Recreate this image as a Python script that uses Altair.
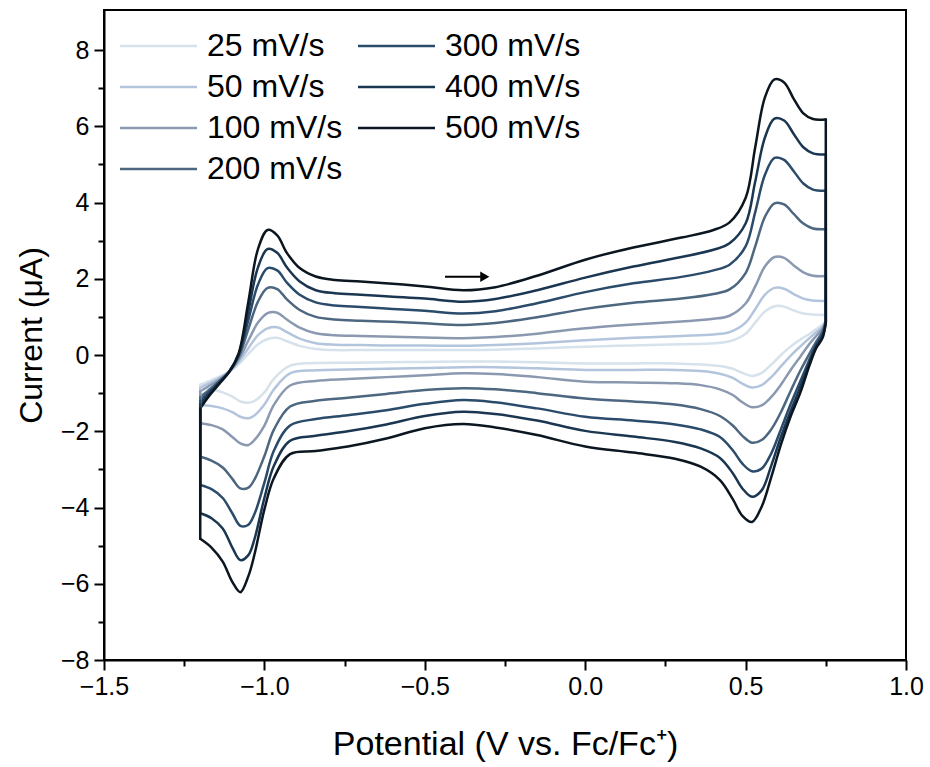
import altair as alt
import pandas as pd

# ---------------- data ----------------
RATES = ["25 mV/s", "50 mV/s", "100 mV/s", "200 mV/s", "300 mV/s", "400 mV/s", "500 mV/s"]
COLORS = ["#d6e2ec", "#b3c5dc", "#8a99b0", "#4d6781", "#2b4b6b", "#1b3651", "#0b1620"]

# forward (anodic) scan, potential in V
F_X = [-1.20, -1.17, -1.14, -1.11, -1.08, -1.05, -1.02, -0.99, -0.96, -0.93, -0.89,
       -0.84, -0.78, -0.70, -0.60, -0.50, -0.38, -0.28, -0.15, 0.00, 0.15, 0.30,
       0.40, 0.45, 0.50, 0.53, 0.56, 0.59, 0.62, 0.65, 0.68, 0.71, 0.75]
F_25 = [-0.78, -0.68, -0.57, -0.44, -0.24, 0.03, 0.28, 0.42, 0.45, 0.36, 0.24,
        0.16, 0.13, 0.13, 0.13, 0.13, 0.13, 0.14, 0.17, 0.22, 0.25, 0.28,
        0.31, 0.36, 0.56, 0.85, 1.14, 1.28, 1.27, 1.17, 1.09, 1.06, 1.05]
F_50 = [-0.85, -0.74, -0.60, -0.44, -0.18, 0.18, 0.52, 0.70, 0.73, 0.60, 0.43,
        0.31, 0.27, 0.26, 0.25, 0.25, 0.24, 0.26, 0.31, 0.39, 0.45, 0.50,
        0.54, 0.60, 0.85, 1.20, 1.58, 1.76, 1.74, 1.60, 1.48, 1.43, 1.42]
F_100 = [-0.95, -0.80, -0.64, -0.44, -0.12, 0.38, 0.85, 1.10, 1.11, 0.93, 0.72,
         0.57, 0.52, 0.50, 0.48, 0.46, 0.44, 0.47, 0.56, 0.70, 0.80, 0.88,
         0.95, 1.03, 1.35, 1.80, 2.32, 2.57, 2.55, 2.35, 2.17, 2.08, 2.07]
F_200 = [-1.10, -0.90, -0.68, -0.44, -0.05, 0.68, 1.40, 1.76, 1.73, 1.46, 1.18,
         1.00, 0.93, 0.90, 0.87, 0.83, 0.79, 0.84, 0.99, 1.21, 1.37, 1.48,
         1.60, 1.72, 2.15, 2.85, 3.62, 3.98, 3.95, 3.70, 3.45, 3.32, 3.30]
F_300 = [-1.20, -0.95, -0.70, -0.44, 0.00, 0.92, 1.85, 2.28, 2.22, 1.90, 1.58,
         1.38, 1.30, 1.26, 1.21, 1.16, 1.09, 1.15, 1.36, 1.65, 1.88, 2.05,
         2.22, 2.37, 2.85, 3.75, 4.72, 5.17, 5.12, 4.82, 4.50, 4.34, 4.31]
F_400 = [-1.30, -1.00, -0.72, -0.44, 0.02, 1.15, 2.30, 2.78, 2.68, 2.30, 1.93,
         1.70, 1.62, 1.58, 1.53, 1.48, 1.40, 1.47, 1.70, 2.03, 2.32, 2.57,
         2.76, 2.93, 3.45, 4.55, 5.70, 6.20, 6.15, 5.80, 5.45, 5.29, 5.26]
F_500 = [-1.40, -1.05, -0.75, -0.45, 0.05, 1.40, 2.78, 3.28, 3.14, 2.68, 2.28,
         2.06, 1.97, 1.93, 1.87, 1.80, 1.70, 1.78, 2.08, 2.50, 2.82, 3.08,
         3.28, 3.48, 4.12, 5.45, 6.75, 7.23, 7.15, 6.72, 6.34, 6.19, 6.18]

# reverse (cathodic) scan
R_X = [0.75, 0.74, 0.72, 0.70, 0.67, 0.64, 0.61, 0.58, 0.55, 0.52, 0.49, 0.46,
       0.42, 0.36, 0.28, 0.15, 0.00, -0.15, -0.28, -0.38, -0.50, -0.62, -0.74,
       -0.84, -0.92, -0.97, -1.00, -1.03, -1.05, -1.075, -1.10, -1.13, -1.165, -1.20]
R_25 = [0.90, 0.80, 0.68, 0.56, 0.40, 0.22, 0.00, -0.25, -0.47, -0.55, -0.47, -0.36,
        -0.29, -0.25, -0.22, -0.22, -0.22, -0.19, -0.17, -0.17, -0.18, -0.19, -0.20,
        -0.21, -0.28, -0.62, -0.98, -1.20, -1.25, -1.22, -1.09, -0.98, -0.89, -0.83]
R_50 = [0.90, 0.75, 0.60, 0.45, 0.22, -0.02, -0.30, -0.58, -0.79, -0.85, -0.75, -0.60,
        -0.49, -0.42, -0.39, -0.39, -0.39, -0.35, -0.32, -0.32, -0.34, -0.36, -0.38,
        -0.40, -0.48, -0.90, -1.30, -1.58, -1.66, -1.62, -1.50, -1.40, -1.34, -1.31]
R_100 = [0.89, 0.70, 0.50, 0.30, -0.05, -0.40, -0.78, -1.10, -1.32, -1.37, -1.24, -1.05,
         -0.90, -0.79, -0.74, -0.72, -0.70, -0.58, -0.50, -0.48, -0.53, -0.58, -0.63,
         -0.68, -0.80, -1.30, -1.85, -2.22, -2.36, -2.32, -2.15, -1.95, -1.84, -1.79]
R_200 = [0.88, 0.62, 0.35, 0.05, -0.42, -0.95, -1.50, -1.95, -2.23, -2.30, -2.12, -1.85,
         -1.60, -1.42, -1.30, -1.22, -1.14, -1.00, -0.90, -0.87, -0.92, -1.02, -1.12,
         -1.20, -1.35, -1.95, -2.65, -3.25, -3.48, -3.50, -3.25, -2.95, -2.77, -2.67]
R_300 = [0.87, 0.55, 0.28, -0.10, -0.70, -1.30, -1.95, -2.58, -2.98, -3.05, -2.85, -2.50,
         -2.15, -1.95, -1.82, -1.72, -1.62, -1.40, -1.24, -1.18, -1.28, -1.45, -1.58,
         -1.68, -1.85, -2.50, -3.35, -4.15, -4.45, -4.48, -4.15, -3.75, -3.52, -3.41]
R_400 = [0.86, 0.50, 0.22, -0.18, -0.85, -1.48, -2.15, -2.90, -3.55, -3.72, -3.50, -3.10,
         -2.70, -2.45, -2.28, -2.14, -1.99, -1.72, -1.55, -1.49, -1.60, -1.82, -2.00,
         -2.12, -2.25, -2.90, -3.75, -4.80, -5.25, -5.38, -5.05, -4.55, -4.28, -4.15]
R_500 = [0.85, 0.45, 0.18, -0.25, -1.00, -1.62, -2.35, -3.20, -3.98, -4.38, -4.22, -3.78,
         -3.28, -2.93, -2.72, -2.56, -2.40, -2.10, -1.90, -1.81, -1.92, -2.19, -2.40,
         -2.52, -2.60, -3.22, -4.05, -5.20, -5.80, -6.22, -5.95, -5.42, -5.05, -4.82]

FORWARD = [F_25, F_50, F_100, F_200, F_300, F_400, F_500]
REVERSE = [R_25, R_50, R_100, R_200, R_300, R_400, R_500]

# scan-direction arrow
ARROW_X = [-0.437, -0.325]
ARROW_Y = [2.05]
ARROW_TIP_X = [-0.313]

X_TICKS = [-1.5, -1.25, -1.0, -0.75, -0.5, -0.25, 0.0, 0.25, 0.5, 0.75, 1.0]
Y_TICKS = list(range(-8, 9))

# ---------------- build tables ----------------
rows = []
conn = []
for rate, fy, ry in zip(RATES, FORWARD, REVERSE):
    for k, (v, i) in enumerate(zip(F_X, fy)):
        rows.append({"rate": rate, "branch": "F", "V": v, "I": i, "k": k})
    for k, (v, i) in enumerate(zip(R_X, ry)):
        rows.append({"rate": rate, "branch": "R", "V": v, "I": i, "k": k})
    # potential switching points: vertical jumps joining the two branches
    conn.append({"rate": rate, "V": F_X[-1], "I": fy[-1], "I2": ry[0]})
    conn.append({"rate": rate, "V": R_X[-1], "I": ry[-1], "I2": fy[0]})
df = pd.DataFrame(rows)
conn_df = pd.DataFrame(conn)

arrow_df = pd.DataFrame({"V": [ARROW_X[0]], "V2": [ARROW_X[1]], "I": ARROW_Y})
tip_df = pd.DataFrame({"V": ARROW_TIP_X, "I": ARROW_Y})

FONT = "Liberation Sans"
XT = "Potential (V vs. Fc/Fc\u207a)"
YT = "Current (\u03bcA)"

xscale = alt.Scale(domain=[-1.5, 1.0], nice=False, zero=False)
yscale = alt.Scale(domain=[-8, 9.05], nice=False, zero=False)
cscale = alt.Scale(domain=RATES, range=COLORS)

X_MAJOR = "abs(datum.value * 2 - round(datum.value * 2)) < 0.001"
Y_MAJOR = "abs(datum.value % 2) < 0.001"

xaxis = alt.Axis(
    values=X_TICKS,
    labelExpr=f"{X_MAJOR} ? replace(format(datum.value, '.1f'), '-', '\u2212') : ''",
    tickSize={"condition": {"test": X_MAJOR, "value": 10}, "value": 6},
    tickWidth=2, tickColor="black", domainColor="black", domainWidth=2,
    labelFont=FONT, labelFontSize=25, labelColor="black", labelPadding=4,
    labelFlush=False, labelOverlap=False, grid=False,
    titleFont=FONT, titleFontSize=34, titleFontWeight="normal", titleColor="black",
    titlePadding=28,
)
yaxis = alt.Axis(
    values=Y_TICKS,
    labelExpr=f"{Y_MAJOR} ? replace(format(datum.value, 'd'), '-', '\u2212') : ''",
    tickSize={"condition": {"test": Y_MAJOR, "value": 10}, "value": 6},
    tickWidth=2, tickColor="black", domainColor="black", domainWidth=2,
    labelFont=FONT, labelFontSize=25, labelColor="black", labelPadding=5,
    labelOverlap=False, grid=False,
    titleFont=FONT, titleFontSize=32, titleFontWeight="normal", titleColor="black",
    titlePadding=12,
)

legend = alt.Legend(
    title=None, orient="none", legendX=10, legendY=20, columns=2,
    symbolType="M-1,0H6.7", symbolSize=400, symbolStrokeWidth=2.5,
    labelFont=FONT, labelFontSize=32, labelColor="black", labelOffset=61,
    rowPadding=9, columnPadding=9, padding=0,
)

lines = alt.Chart(df).mark_line(
    interpolate="catmull-rom", strokeWidth=2.5, strokeJoin="round", strokeCap="round"
).encode(
    x=alt.X("V:Q", scale=xscale, axis=xaxis, title=XT),
    y=alt.Y("I:Q", scale=yscale, axis=yaxis, title=YT),
    color=alt.Color("rate:N", scale=cscale, legend=legend),
    detail="branch:N",
    order=alt.Order("k:Q"),
)

jumps = alt.Chart(conn_df).mark_rule(strokeWidth=2.5, strokeCap="round").encode(
    x=alt.X("V:Q", scale=xscale, title=XT),
    y=alt.Y("I:Q", scale=yscale, title=YT),
    y2="I2:Q",
    color=alt.Color("rate:N", scale=cscale, legend=legend),
)

shaft = alt.Chart(arrow_df).mark_rule(color="black", strokeWidth=2).encode(
    x=alt.X("V:Q", scale=xscale, title=XT),
    x2="V2:Q",
    y=alt.Y("I:Q", scale=yscale, title=YT),
)
tip = alt.Chart(tip_df).mark_point(
    shape="triangle-right", filled=True, size=110, color="black", opacity=1
).encode(
    x=alt.X("V:Q", scale=xscale, title=XT),
    y=alt.Y("I:Q", scale=yscale, title=YT),
)

chart = alt.layer(lines, jumps, shaft, tip).properties(
    width=802, height=650,
    padding={"left": 104, "top": 10, "right": 24, "bottom": 107},
    autosize=alt.AutoSizeParams(type="none"),
    background="white",
).configure_view(stroke="black", strokeWidth=2)

chart.save("out.html", embed_options={"renderer": "svg", "actions": False})
